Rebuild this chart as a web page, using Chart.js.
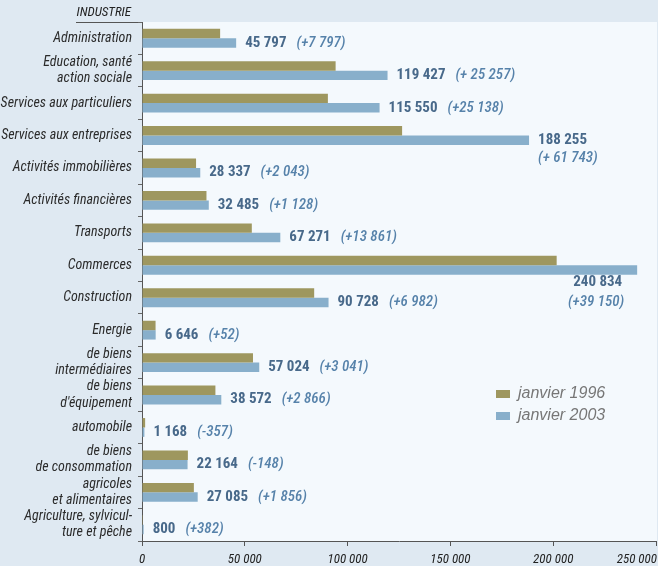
<!DOCTYPE html>
<html>
<head>
<meta charset="utf-8">
<script src="https://cdn.jsdelivr.net/npm/chart.js@4"></script>
<style>
  html, body { margin: 0; padding: 0; background: #dfe9f2; }
  #wrap { width: 658px; height: 566px; }
</style>
</head>
<body>
<div id="wrap"><canvas id="chart" width="658" height="566"></canvas></div>
<script>
const categories = [
  'Administration',
  ['Education, santé', 'action sociale'],
  'Services aux particuliers',
  'Services aux entreprises',
  'Activités immobilières',
  'Activités financières',
  'Transports',
  'Commerces',
  'Construction',
  'Energie',
  ['de biens', 'intermédiaires'],
  ['de biens', "d'équipement"],
  'automobile',
  ['de biens', 'de consommation'],
  ['agricoles', 'et alimentaires'],
  ['Agriculture, sylvicul-', 'ture et pêche']
];
const jan1996 = [38000, 94170, 90412, 126512, 26294, 31357, 53410, 201684, 83746, 6594, 53983, 35706, 1525, 22312, 25229, 418];
const jan2003 = [45797, 119427, 115550, 188255, 28337, 32485, 67271, 240834, 90728, 6646, 57024, 38572, 1168, 22164, 27085, 800];
const diffLabels = ['(+7 797)', '(+ 25 257)', '(+25 138)', '(+ 61 743)', '(+2 043)', '(+1 128)', '(+13 861)', '(+39 150)',
  '(+6 982)', '(+52)', '(+3 041)', '(+2 866)', '(-357)', '(-148)', '(+1 856)', '(+382)'];
const xTicks = [0, 50000, 100000, 150000, 200000, 250000];

const NARROW = '"Roboto Condensed", sans-serif';
const fmt = n => String(n).replace(/\B(?=(\d{3})+(?!\d))/g, ' ');

const decor = {
  id: 'decor',
  beforeDraw(chart) {
    const { ctx, chartArea: a } = chart;
    ctx.save();
    ctx.fillStyle = '#f4f9fd';
    ctx.fillRect(a.left, a.top, chart.width - 1 - a.left, a.bottom - a.top);
    // title over the category axis
    ctx.fillStyle = '#222';
    ctx.font = 'italic 13px ' + NARROW;
    ctx.textAlign = 'right';
    ctx.textBaseline = 'middle';
    ctx.fillText('INDUSTRIE', a.left - 11, 13);
    ctx.strokeStyle = '#555';
    ctx.lineWidth = 1;
    ctx.beginPath();
    ctx.moveTo(76, a.top + 0.5);
    ctx.lineTo(a.left, a.top + 0.5);
    ctx.stroke();
    ctx.restore();
  },
  afterDraw(chart) {
    const { ctx, chartArea: a } = chart;
    const xs = chart.scales.x;
    ctx.save();
    // x tick labels, last one kept inside the canvas
    ctx.fillStyle = '#222';
    ctx.font = 'italic 13px ' + NARROW;
    ctx.textBaseline = 'middle';
    ctx.textAlign = 'left';
    xTicks.forEach(v => {
      const t = fmt(v);
      const w = ctx.measureText(t).width;
      let x = xs.getPixelForValue(v) - w / 2;
      if (x + w > chart.width - 1) x = chart.width - 1 - w;
      ctx.fillText(t, x, a.bottom + 19);
    });

    // value labels
    const meta = chart.getDatasetMeta(1);
    meta.data.forEach((bar, i) => {
      const val = fmt(jan2003[i]);
      const diff = diffLabels[i];
      ctx.font = 'bold 15px ' + NARROW;
      const wv = ctx.measureText(val).width;
      ctx.font = 'italic 500 15px ' + NARROW;
      const wd = ctx.measureText(diff).width;
      const x0 = bar.x + 9;
      let vx, vy, dx, dy;
      if (x0 + wv + 10 + wd <= a.right - 10) {
        vx = x0; vy = bar.y; dx = x0 + wv + 10; dy = bar.y;
      } else if (x0 + wv <= a.right) {
        vx = x0; vy = bar.y; dx = x0; dy = bar.y + 18;
      } else {
        vx = bar.x - 15 - wv; vy = bar.y + 12; dx = bar.x - 13 - wd; dy = bar.y + 32;
      }
      ctx.textAlign = 'left';
      ctx.textBaseline = 'middle';
      ctx.font = 'bold 15px ' + NARROW;
      ctx.fillStyle = '#48698a';
      ctx.fillText(val, vx, vy);
      ctx.font = 'italic 500 15px ' + NARROW;
      ctx.fillStyle = '#5682aa';
      ctx.fillText(diff, dx, dy);
    });

    // legend
    ctx.font = 'italic 16px "Liberation Sans", sans-serif';
    ctx.textBaseline = 'middle';
    chart.data.datasets.forEach((ds, i) => {
      const y = 394 + i * 22;
      ctx.fillStyle = ds.backgroundColor;
      ctx.fillRect(496, y - 4, 14, 8);
      ctx.fillStyle = '#767676';
      ctx.fillText(ds.label, 518, y);
    });
    ctx.restore();
  }
};

new Chart(document.getElementById('chart'), {
  type: 'bar',
  data: {
    labels: categories,
    datasets: [
      { label: 'janvier 1996', data: jan1996, backgroundColor: '#9e975f' },
      { label: 'janvier 2003', data: jan2003, backgroundColor: '#88afcb' }
    ]
  },
  options: {
    indexAxis: 'y',
    responsive: false,
    animation: false,
    layout: { padding: { top: 22, right: 2, left: 0, bottom: 0 } },
    datasets: { bar: { categoryPercentage: 0.58, barPercentage: 1 } },
    scales: {
      x: {
        min: 0,
        max: 250000,
        ticks: { display: false, stepSize: 50000 },
        grid: { drawOnChartArea: false, tickLength: 5, color: '#555' },
        border: { color: '#555' },
        afterFit(scale) { scale.height = 25; scale.paddingLeft = 0; scale.paddingRight = 0; }
      },
      y: {
        grid: { offset: true, drawOnChartArea: false, tickLength: 4, color: '#666' },
        border: { color: '#555' },
        ticks: {
          autoSkip: false,
          color: '#2b2b2b',
          padding: 6,
          font: { family: NARROW, size: 14, style: 'italic', lineHeight: 1.15 }
        },
        afterFit(scale) { scale.width = 142; scale.paddingTop = 0; scale.paddingBottom = 0; }
      }
    },
    plugins: {
      legend: { display: false },
      tooltip: { enabled: false }
    }
  },
  plugins: [decor]
});
</script>
</body>
</html>
